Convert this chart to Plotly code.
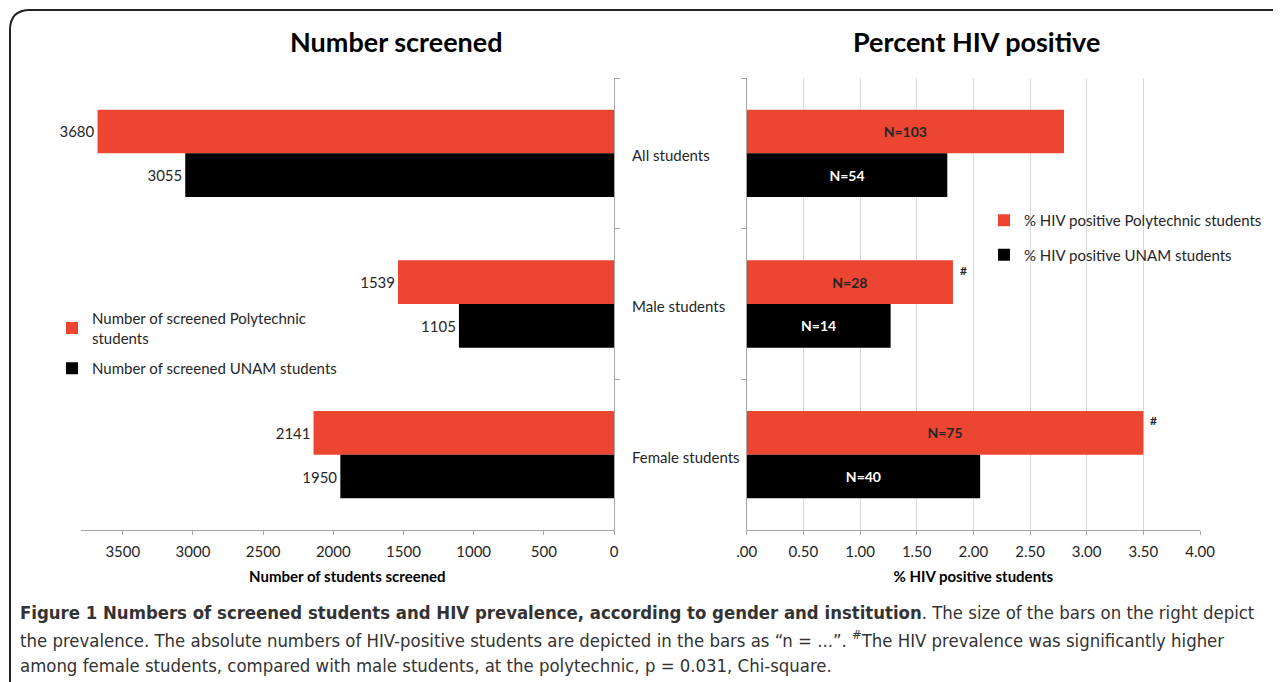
import plotly.graph_objects as go

# ---------------- data ----------------
categories = ["All students", "Male students", "Female students"]
screened_poly = [3680, 1539, 2141]
screened_unam = [3055, 1105, 1950]
pct_poly = [2.80, 1.82, 3.50]
pct_unam = [1.77, 1.27, 2.06]
n_poly = ["N=103", "N=28", "N=75"]
n_unam = ["N=54", "N=14", "N=40"]
sig_poly = ["", "#", "#"]
left_tickvals = [3500, 3000, 2500, 2000, 1500, 1000, 500, 0]
right_tickvals = [0, 0.5, 1.0, 1.5, 2.0, 2.5, 3.0, 3.5, 4.0]
right_ticktext = [".00", "0.50", "1.00", "1.50", "2.00", "2.50", "3.00", "3.50", "4.00"]
caption_lines = [
    "<b>Figure 1 Numbers of screened students and HIV prevalence, according to gender and institution</b>. The size of the bars on the right depict",
    "the prevalence. The absolute numbers of HIV-positive students are depicted in the bars as “n = ...”. <sup>#</sup>The HIV prevalence was significantly higher",
    "among female students, compared with male students, at the polytechnic, p = 0.031, Chi-square.",
]

# ---------------- styling ----------------
W, H = 1281, 682
OFF = 8  # page body margin compensation
RED = "#EC4532"
BLACK = "#000000"
AXIS = "#A6A6A6"
GRID = "#D9D9D9"
TXT = "#262626"
FONT = "Lato"
CAP_FONT = "Liberation Sans Narrow, DejaVu Sans Condensed, Liberation Sans"


def px(x):
    return (x - OFF) / W


def py(y):
    return 1 - (y - OFF) / H


fig = go.Figure()

fig.add_trace(go.Bar(
    y=categories, x=screened_poly, orientation="h", name="Number of screened Polytechnic<br>students",
    marker=dict(color=RED, line=dict(width=0)), text=[str(v) for v in screened_poly],
    textposition="outside", textfont=dict(family=FONT, size=15, color=TXT), cliponaxis=False,
    xaxis="x", yaxis="y", legend="legend", legendgroup="a", hoverinfo="skip"))
fig.add_trace(go.Bar(
    y=categories, x=screened_unam, orientation="h", name="Number of screened UNAM students",
    marker=dict(color=BLACK, line=dict(width=0)), text=[str(v) for v in screened_unam],
    textposition="outside", textfont=dict(family=FONT, size=15, color=TXT), cliponaxis=False,
    xaxis="x", yaxis="y", legend="legend", legendgroup="b", hoverinfo="skip"))
fig.add_trace(go.Bar(
    y=categories, x=pct_poly, orientation="h", name="% HIV positive Polytechnic students",
    marker=dict(color=RED, line=dict(width=0)), text=[f"<b>{t}</b>" for t in n_poly],
    textposition="inside", insidetextanchor="middle", textangle=0,
    textfont=dict(family=FONT, size=14, color=TXT),
    xaxis="x2", yaxis="y2", legend="legend2", legendgroup="c", hoverinfo="skip"))
fig.add_trace(go.Bar(
    y=categories, x=pct_unam, orientation="h", name="% HIV positive UNAM students",
    marker=dict(color=BLACK, line=dict(width=0)), text=[f"<b>{t}</b>" for t in n_unam],
    textposition="inside", insidetextanchor="middle", textangle=0,
    textfont=dict(family=FONT, size=14, color="#FFFFFF"),
    xaxis="x2", yaxis="y2", legend="legend2", legendgroup="d", hoverinfo="skip"))

y_dom = [py(530), py(78)]

annotations = [
    dict(text="<b>Number screened</b>", x=px(396), y=py(42), xref="paper", yref="paper",
         xanchor="center", yanchor="middle",
         showarrow=False, font=dict(family=FONT, size=27, color="#000")),
    dict(text="<b>Percent HIV positive</b>", x=px(977), y=py(42), xref="paper", yref="paper",
         xanchor="center", yanchor="middle",
         showarrow=False, font=dict(family=FONT, size=27, color="#000")),
]
for c in categories:
    annotations.append(dict(text=c, x=px(630), y=c, xref="paper", yref="y2", xanchor="left",
                            yanchor="middle", yshift=-2, showarrow=False,
                            font=dict(family=FONT, size=15, color=TXT)))
for c, v, s in zip(categories, pct_poly, sig_poly):
    if s:
        annotations.append(dict(text=f"<b>{s}</b>", x=v, y=c, xref="x2", yref="y2", xanchor="left",
                                yanchor="middle", xshift=5, yshift=34, showarrow=False,
                                font=dict(family=FONT, size=12, color=TXT)))
cap_y = [612, 638.5, 665]
for line, yy in zip(caption_lines, cap_y):
    annotations.append(dict(text=line, x=px(18), y=py(yy), xref="paper", yref="paper",
                            xanchor="left", yanchor="middle", showarrow=False,
                            font=dict(family=CAP_FONT, size=18.4, color="#333")))

frame_path = (f"M {px(10)},{py(720)} L {px(10)},{py(30)} Q {px(10)},{py(10)} {px(30)},{py(10)} "
              f"L {px(1300)},{py(10)}")

fig.update_layout(
    width=W, height=H,
    margin=dict(l=0, r=0, t=0, b=0, pad=0, autoexpand=False),
    paper_bgcolor="white", plot_bgcolor="white",
    font=dict(family=FONT, size=15, color=TXT),
    barmode="group", bargap=0.42, bargroupgap=0,
    showlegend=True,
    xaxis=dict(domain=[px(80.7), px(614)], range=[3800, 0], anchor="y", automargin=False,
               tickvals=left_tickvals, ticks="outside", ticklen=4, tickcolor=AXIS,
               ticklabelstandoff=4,
               showline=True, linecolor=AXIS, linewidth=1, showgrid=False, zeroline=False,
               tickfont=dict(family=FONT, size=15, color=TXT),
               title=dict(text="<b>Number of students screened</b>", standoff=12,
                          font=dict(family=FONT, size=15, color="#000"))),
    yaxis=dict(domain=y_dom, anchor="x", side="right", autorange="reversed", automargin=False,
               showticklabels=False, ticks="outside", tickson="boundaries", ticklen=5,
               tickcolor=AXIS, showline=True, linecolor=AXIS, showgrid=False, zeroline=False),
    xaxis2=dict(domain=[px(746.7), px(1200)], range=[0, 4], anchor="y2", automargin=False,
                tickvals=right_tickvals, ticktext=right_ticktext, ticks="outside", ticklen=4,
                ticklabelstandoff=4,
                tickcolor=AXIS, showline=True, linecolor=AXIS, linewidth=1,
                showgrid=True, gridcolor=GRID, zeroline=False,
                tickfont=dict(family=FONT, size=15, color=TXT),
                title=dict(text="<b>% HIV positive students</b>", standoff=12,
                           font=dict(family=FONT, size=15, color="#000"))),
    yaxis2=dict(domain=y_dom, anchor="x2", autorange="reversed", automargin=False,
                showticklabels=False, ticks="outside", tickson="boundaries", ticklen=5,
                tickcolor=AXIS, showline=True, linecolor=AXIS, showgrid=False, zeroline=False),
    legend=dict(x=px(52), y=py(302), xanchor="left", yanchor="top", bgcolor="rgba(0,0,0,0)",
                traceorder="grouped", tracegroupgap=8, itemwidth=30,
                font=dict(family=FONT, size=15, color=TXT)),
    legend2=dict(x=px(984), y=py(204), xanchor="left", yanchor="top", bgcolor="rgba(0,0,0,0)",
                 traceorder="grouped", tracegroupgap=12, itemwidth=30,
                 font=dict(family=FONT, size=15, color=TXT)),
    annotations=annotations,
    shapes=[dict(type="path", path=frame_path, xref="paper", yref="paper",
                 line=dict(color="#222", width=2), layer="above")],
)

fig.write_html("out.html")
